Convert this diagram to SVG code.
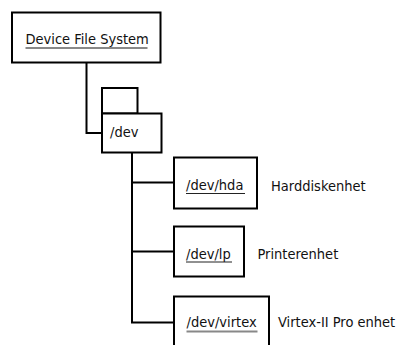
<svg xmlns="http://www.w3.org/2000/svg" width="398" height="345" viewBox="0 0 398 345">
  <style>
    .box { fill: #fff; stroke: #000; stroke-width: 2; }
    .wire { fill: none; stroke: #000; stroke-width: 2; }
    .t { font-family: "DejaVu Sans Condensed", "DejaVu Sans", sans-serif; font-size: 14.5px; fill: #111; }
    .ul { stroke: #222; stroke-width: 1.2; }
    .ul2 { stroke: #888; stroke-width: 2; }
  </style>
  <rect width="398" height="345" fill="#fff"/>

  <g id="connectors">
    <polyline class="wire" points="86.5,62 86.5,133 102,133"/>
    <polyline class="wire" points="132,152 132,322.5 174,322.5"/>
    <line class="wire" x1="132" y1="182.5" x2="174" y2="182.5"/>
    <line class="wire" x1="132" y1="251.5" x2="174" y2="251.5"/>
  </g>

  <g id="device-file-system">
    <rect class="box" x="12" y="12.5" width="148.5" height="50"/>
    <text class="t" x="25.5" y="44">Device File System</text>
    <line class="ul2" x1="25.5" y1="48" x2="147.5" y2="48"/>
  </g>

  <g id="dev-stack">
    <rect class="box" x="102" y="88" width="35.5" height="25.5"/>
  </g>

  <g id="dev">
    <rect class="box" x="102" y="113.5" width="59.5" height="39"/>
    <text class="t" x="110" y="137">/dev</text>
  </g>

  <g id="dev-hda">
    <rect class="box" x="174" y="157.5" width="83" height="51"/>
    <text class="t" x="186" y="190">/dev/hda</text>
    <line class="ul" x1="186" y1="193.5" x2="245" y2="193.5"/>
    <text class="t" x="271" y="191">Harddiskenhet</text>
  </g>

  <g id="dev-lp">
    <rect class="box" x="174" y="226.5" width="70" height="50"/>
    <text class="t" x="186" y="258.5">/dev/lp</text>
    <line class="ul" x1="186" y1="262" x2="232" y2="262"/>
    <text class="t" x="257.5" y="259">Printerenhet</text>
  </g>

  <g id="dev-virtex">
    <rect class="box" x="174" y="296.5" width="95" height="60"/>
    <text class="t" x="186.5" y="326.5">/dev/virtex</text>
    <line class="ul2" x1="186.5" y1="331.5" x2="257.5" y2="331.5"/>
    <text class="t" x="278" y="327">Virtex-II Pro enhet</text>
  </g>
</svg>
